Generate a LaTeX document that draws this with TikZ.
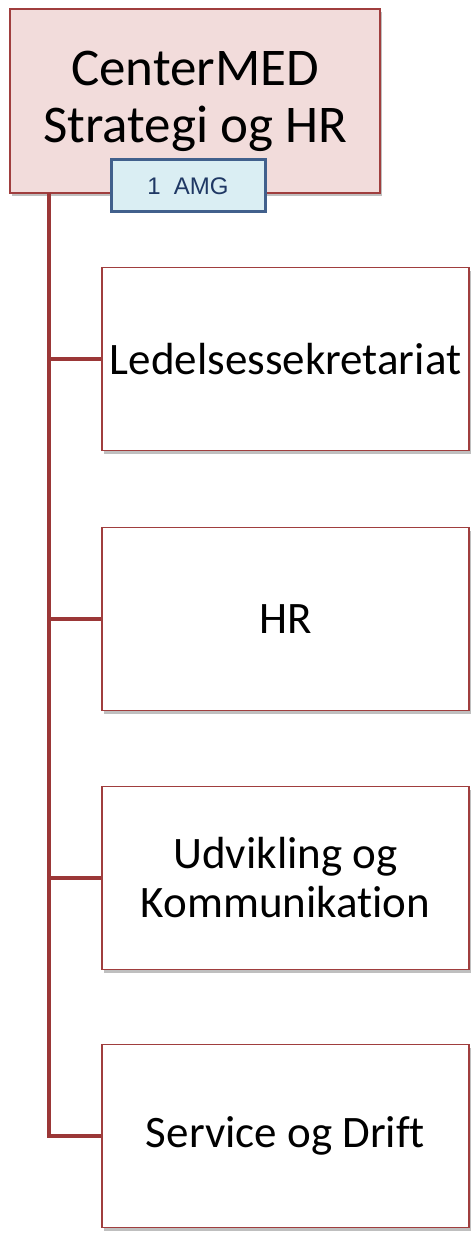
\documentclass[tikz,border=0pt]{standalone}
\usepackage{fontspec}
\setmainfont[Ligatures=NoCommon]{Carlito}
\newfontfamily\arialf{Liberation Sans}
\usetikzlibrary{shadows}
\definecolor{boxred}{RGB}{160,62,62}
\definecolor{linkred}{RGB}{155,55,55}
\definecolor{titlefill}{RGB}{242,220,219}
\definecolor{amgfill}{RGB}{218,238,243}
\definecolor{amgdraw}{RGB}{65,96,140}
\definecolor{amgtext}{RGB}{31,56,100}
\tikzset{
  x=1pt, y=-1pt,
  orgbox/.style={draw=boxred, line width=1.5pt, rectangle, inner sep=0pt,
    align=center, text=black,
    drop shadow={shadow xshift=2pt, shadow yshift=-3pt, opacity=0.25, fill=black}},
  titlebox/.style={orgbox, fill=titlefill, minimum width=370pt, minimum height=184pt,
    font=\fontsize{53}{57}\selectfont},
  childbox/.style={orgbox, fill=white, minimum width=367pt, minimum height=183pt,
    font=\fontsize{45}{49}\selectfont},
  amgbox/.style={draw=amgdraw, fill=amgfill, line width=3pt, rectangle, inner sep=0pt,
    minimum width=154pt, minimum height=52pt, text=amgtext,
    font=\arialf\fontsize{24}{28}\selectfont},
  link/.style={draw=linkred, line width=4.5pt, line join=miter}
}
\begin{document}
\begin{tikzpicture}
\useasboundingbox (0,0) rectangle (473,1233);
\node[titlebox] (top) at (195,101) {CenterMED\\Strategi og HR};
\node[childbox] (b1) at (285.5,359) {Ledelsessekretariat};
\node[childbox] (b2) at (285.5,619) {HR};
\node[childbox] (b3) at (285.5,878) {Udvikling og\\Kommunikation};
\node[childbox] (b4) at (285.5,1136) {Service og Drift};
\coordinate (trunk) at (49,193);
\draw[link] (trunk) |- (b1.west);
\draw[link] (trunk) |- (b2.west);
\draw[link] (trunk) |- (b3.west);
\draw[link] (trunk) |- (b4.west);
\node[amgbox] (amg) at (188,186) {1\ \ AMG};
\end{tikzpicture}
\end{document}
